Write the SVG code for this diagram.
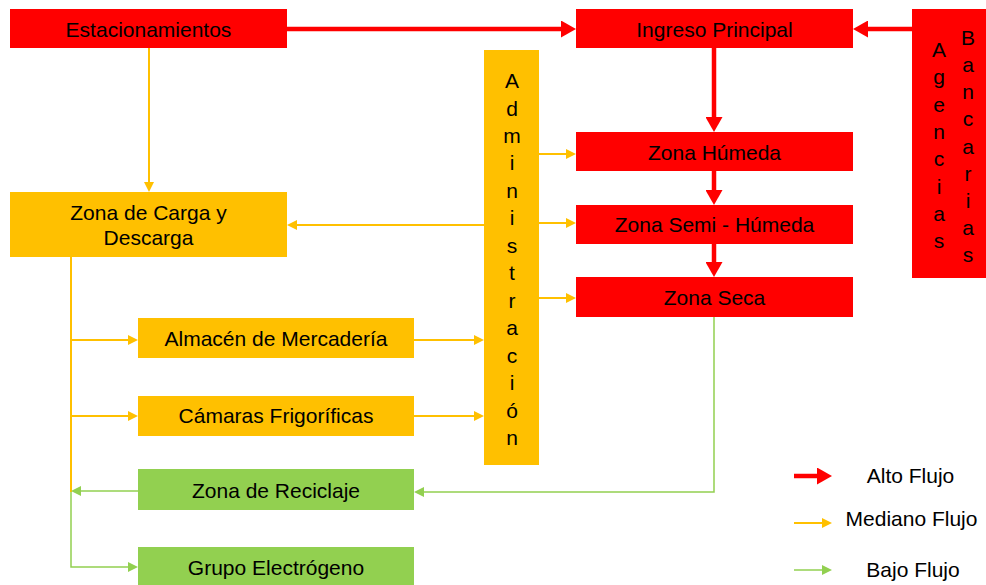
<svg xmlns="http://www.w3.org/2000/svg" width="986" height="585" viewBox="0 0 986 585">
<style>
.r{fill:#FF0000}.o{fill:#FFC000}.g{fill:#92D050}
text{font-family:"Liberation Sans",Arial,sans-serif;font-size:21px;fill:#000;text-anchor:middle}
.cr{stroke:#FF0000;stroke-width:4.5;fill:none}
.co{stroke:#FFC000;stroke-width:2;fill:none}
.cg{stroke:#92D050;stroke-width:1.5;fill:none}
</style>
<defs>
<marker id="hr" markerUnits="userSpaceOnUse" markerWidth="16" markerHeight="17" refX="0" refY="8.5" orient="auto"><path d="M0,0 L15,8.5 L0,17 z" fill="#FF0000"/></marker>
<marker id="ho" markerUnits="userSpaceOnUse" markerWidth="11" markerHeight="10" refX="0" refY="5" orient="auto"><path d="M0,0 L10,5 L0,10 z" fill="#FFC000"/></marker>
<marker id="hg" markerUnits="userSpaceOnUse" markerWidth="11" markerHeight="10" refX="0" refY="5" orient="auto"><path d="M0,0 L10,5 L0,10 z" fill="#92D050"/></marker>
</defs>
<rect width="986" height="585" fill="#fff"/>
<g id="connectors">
<path class="cr" d="M287,29 H561" marker-end="url(#hr)"/>
<path class="cr" d="M912,29 H868" marker-end="url(#hr)"/>
<path class="cr" d="M714,48 V117" marker-end="url(#hr)"/>
<path class="cr" d="M714,171 V190" marker-end="url(#hr)"/>
<path class="cr" d="M714,244 V262" marker-end="url(#hr)"/>
<path class="co" d="M149,48 V182" marker-end="url(#ho)"/>
<path class="co" d="M484,225 H297" marker-end="url(#ho)"/>
<path class="co" d="M538,154 H566" marker-end="url(#ho)"/>
<path class="co" d="M538,223 H566" marker-end="url(#ho)"/>
<path class="co" d="M538,298 H566" marker-end="url(#ho)"/>
<path class="co" d="M71,257 V492"/>
<path class="co" d="M71,340 H128" marker-end="url(#ho)"/>
<path class="co" d="M71,416 H128" marker-end="url(#ho)"/>
<path class="co" d="M414,340 H474" marker-end="url(#ho)"/>
<path class="co" d="M414,416 H474" marker-end="url(#ho)"/>
<path class="cg" d="M138,491 H81" marker-end="url(#hg)"/>
<path class="cg" d="M71,492 V567 H128" marker-end="url(#hg)"/>
<path class="cg" d="M714,317 V492 H424" marker-end="url(#hg)"/>
</g>
<g id="estacionamientos"><rect class="r" x="10" y="9" width="277" height="39"/><text x="148.5" y="37">Estacionamientos</text></g>
<g id="ingreso"><rect class="r" x="576" y="9" width="277" height="39"/><text x="714.5" y="37">Ingreso Principal</text></g>
<g id="agencias"><rect class="r" x="912" y="9" width="76" height="269"/>
<text x="939" y="57">A</text><text x="939" y="84.3">g</text><text x="939" y="111.6">e</text><text x="939" y="138.9">n</text><text x="939" y="166.2">c</text><text x="939" y="193.5">i</text><text x="939" y="220.8">a</text><text x="939" y="248">s</text>
<text x="968" y="45">B</text><text x="968" y="72.1">a</text><text x="968" y="99.2">n</text><text x="968" y="126.4">c</text><text x="968" y="153.5">a</text><text x="968" y="180.6">r</text><text x="968" y="207.7">i</text><text x="968" y="234.9">a</text><text x="968" y="262">s</text>
</g>
<g id="humeda"><rect class="r" x="576" y="132" width="277" height="39"/><text x="714.5" y="160">Zona Húmeda</text></g>
<g id="semihumeda"><rect class="r" x="576" y="205" width="277" height="39"/><text x="714.5" y="232">Zona Semi - Húmeda</text></g>
<g id="seca"><rect class="r" x="576" y="277" width="277" height="40"/><text x="714.5" y="305">Zona Seca</text></g>
<g id="carga"><rect class="o" x="10" y="192" width="277" height="65"/><text x="148.5" y="220">Zona de Carga y</text><text x="148.5" y="245">Descarga</text></g>
<g id="administracion"><rect class="o" x="484" y="50" width="55" height="415"/>
<text x="512" y="88">A</text><text x="512" y="115.5">d</text><text x="512" y="143">m</text><text x="512" y="170.4">i</text><text x="512" y="197.9">n</text><text x="512" y="225.3">i</text><text x="512" y="252.8">s</text><text x="512" y="280.3">t</text><text x="512" y="307.7">r</text><text x="512" y="335.2">a</text><text x="512" y="362.6">c</text><text x="512" y="390.1">i</text><text x="512" y="417.5">ó</text><text x="512" y="445">n</text>
</g>
<g id="almacen"><rect class="o" x="138" y="318" width="276" height="40"/><text x="276" y="345.5">Almacén de Mercadería</text></g>
<g id="camaras"><rect class="o" x="138" y="396" width="276" height="40"/><text x="276" y="423">Cámaras Frigoríficas</text></g>
<g id="reciclaje"><rect class="g" x="138" y="469" width="276" height="41"/><text x="276" y="498">Zona de Reciclaje</text></g>
<g id="grupo"><rect class="g" x="138" y="547" width="276" height="45"/><text x="276" y="575">Grupo Electrógeno</text></g>
<g id="legend">
<path class="cr" d="M794,476 H817" marker-end="url(#hr)"/>
<path class="co" d="M794,523 H822" marker-end="url(#ho)"/>
<path class="cg" d="M794,570 H822" marker-end="url(#hg)"/>
<text x="910.5" y="483">Alto Flujo</text>
<text x="911.5" y="526">Mediano Flujo</text>
<text x="913" y="577">Bajo Flujo</text>
</g>
</svg>
